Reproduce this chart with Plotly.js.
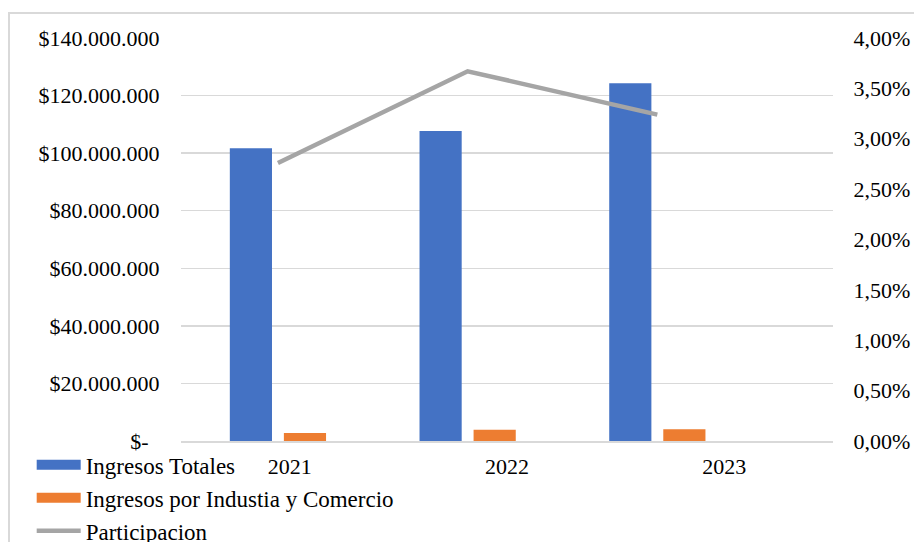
<!DOCTYPE html>
<html>
<head>
<meta charset="utf-8">
<script src="https://cdn.plot.ly/plotly-3.0.1.min.js"></script>
<style>
  html, body { margin: 0; padding: 0; background: #ffffff; }
  #wrap { position: relative; width: 914px; height: 542px; overflow: hidden; }
  #frame { position: absolute; left: 8px; top: 12px; width: 1000px; height: 600px;
           border-left: 2px solid #d9d9d9; border-top: 2px solid #d9d9d9; }
  #chart { position: absolute; left: 0; top: 0; width: 914px; height: 542px; }
</style>
</head>
<body>
<div id="wrap">
  <div id="frame"></div>
  <div id="chart"></div>
</div>
<script>
// ---- data ----
const years = ['2021', '2022', '2023'];
const ingresosTotales = [101700000, 107700000, 124300000];
const ingresosIndustriaComercio = [2800000, 3950000, 4050000];
const participacion = [0.0276, 0.0367, 0.0324];

const seriesNames = ['Ingresos Totales', 'Ingresos por Industia y Comercio', 'Participacion'];
const seriesColors = ['#4472c4', '#ed7d31', '#a5a5a5'];

const leftTickVals = [0, 20000000, 40000000, 60000000, 80000000, 100000000, 120000000, 140000000];
const leftTickText = ['$-\u00a0\u00a0', '$20.000.000', '$40.000.000', '$60.000.000', '$80.000.000', '$100.000.000', '$120.000.000', '$140.000.000'];
const rightTickVals = [0, 0.005, 0.01, 0.015, 0.02, 0.025, 0.03, 0.035, 0.04];
const rightTickText = ['0,00%', '0,50%', '1,00%', '1,50%', '2,00%', '2,50%', '3,00%', '3,50%', '4,00%'];

const FONT = 'Liberation Serif';

const traces = [
  {
    type: 'bar', name: seriesNames[0], x: years, y: ingresosTotales,
    xaxis: 'x', yaxis: 'y', legendgroup: 'g0', showlegend: false,
    marker: { color: seriesColors[0] }, hoverinfo: 'skip'
  },
  {
    type: 'bar', name: seriesNames[1], x: years, y: ingresosIndustriaComercio,
    xaxis: 'x', yaxis: 'y', legendgroup: 'g1', showlegend: false,
    marker: { color: seriesColors[1] }, hoverinfo: 'skip'
  },
  {
    type: 'scatter', mode: 'lines', name: seriesNames[2], x: years, y: participacion,
    xaxis: 'x', yaxis: 'y2', legendgroup: 'g2', showlegend: false,
    line: { color: seriesColors[2], width: 4.5 }, hoverinfo: 'skip'
  },
  // legend keys (wide swatches like the original)
  {
    type: 'scatter', mode: 'lines', name: seriesNames[0], x: [null], y: [null],
    xaxis: 'x', yaxis: 'y', legendgroup: 'g0', legendrank: 1,
    line: { color: seriesColors[0], width: 11 }, hoverinfo: 'skip'
  },
  {
    type: 'scatter', mode: 'lines', name: seriesNames[1], x: [null], y: [null],
    xaxis: 'x', yaxis: 'y', legendgroup: 'g1', legendrank: 2,
    line: { color: seriesColors[1], width: 11 }, hoverinfo: 'skip'
  },
  {
    type: 'scatter', mode: 'lines', name: seriesNames[2], x: [null], y: [null],
    xaxis: 'x', yaxis: 'y2', legendgroup: 'g2', legendrank: 3,
    line: { color: seriesColors[2], width: 4.5 }, hoverinfo: 'skip'
  },
  {
    // carries the category labels on the label axis
    type: 'scatter', mode: 'markers', x: years, y: ingresosTotales,
    xaxis: 'x2', yaxis: 'y',
    marker: { opacity: 0, size: 1 }, showlegend: false, hoverinfo: 'skip'
  }
];

const layout = {
  width: 914, height: 542,
  margin: { l: 181, r: 81, t: 38, b: 101, pad: 0, autoexpand: false },
  paper_bgcolor: 'rgba(0,0,0,0)',
  plot_bgcolor: 'rgba(0,0,0,0)',
  font: { family: FONT, size: 22, color: '#000000' },
  barmode: 'group',
  bargap: 0.43,
  bargroupgap: 0.22,
  showlegend: true,
  legend: {
    orientation: 'v', x: -0.229, xanchor: 'left', y: -0.006, yanchor: 'top',
    font: { family: FONT, size: 23, color: '#000000' },
    bgcolor: 'rgba(0,0,0,0)', tracegroupgap: 0, traceorder: 'normal',
    itemwidth: 44
  },
  xaxis: {
    type: 'category', range: [-0.511, 2.926],
    showticklabels: false, showgrid: false, zeroline: false,
    showline: true, linecolor: '#d9d9d9', linewidth: 2,
    ticks: '', fixedrange: true
  },
  xaxis2: {
    type: 'category', overlaying: 'x', anchor: 'y', side: 'bottom',
    range: [-0.5, 2.5], showgrid: false, zeroline: false, showline: false,
    ticks: 'outside', ticklen: 6, tickcolor: 'rgba(0,0,0,0)',
    tickfont: { family: FONT, size: 22, color: '#000000' }
  },
  yaxis: {
    range: [0, 140000000], tickmode: 'array',
    tickvals: leftTickVals, ticktext: leftTickText,
    showgrid: true, gridcolor: '#d9d9d9', gridwidth: 1.5,
    zeroline: false, showline: false,
    ticks: 'outside', ticklen: 16, tickcolor: 'rgba(0,0,0,0)',
    tickfont: { family: FONT, size: 22, color: '#000000' }
  },
  yaxis2: {
    range: [0, 0.04], overlaying: 'y', side: 'right', anchor: 'x',
    tickmode: 'array', tickvals: rightTickVals, ticktext: rightTickText,
    showgrid: false, zeroline: false, showline: false,
    ticks: 'outside', ticklen: 15, tickcolor: 'rgba(0,0,0,0)',
    tickfont: { family: FONT, size: 22, color: '#000000' }
  }
};

Plotly.newPlot('chart', traces, layout, { staticPlot: true, displayModeBar: false });
</script>
</body>
</html>
